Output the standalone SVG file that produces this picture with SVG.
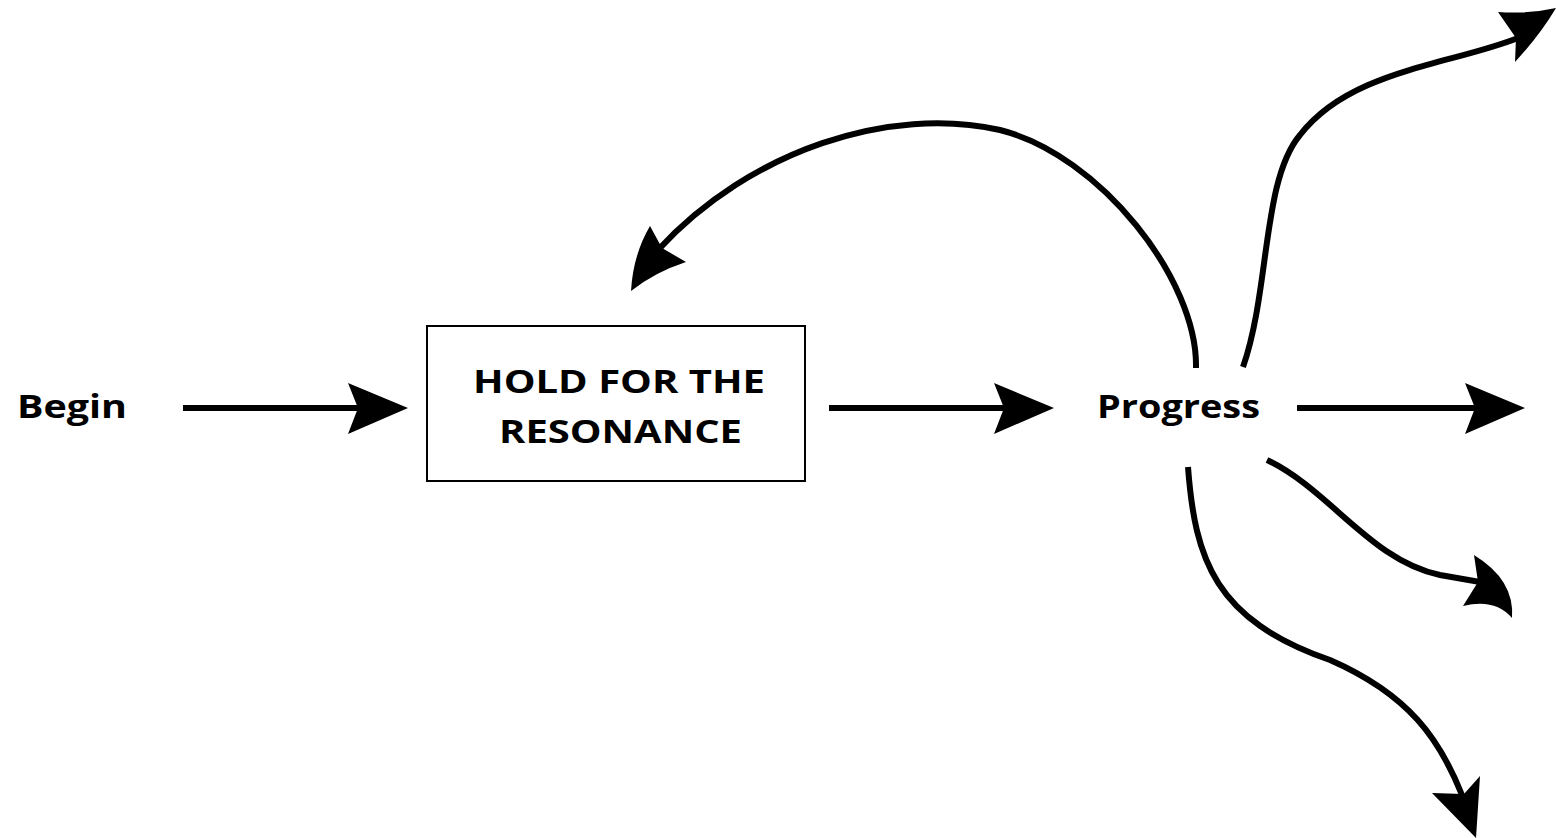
<svg xmlns="http://www.w3.org/2000/svg" width="1556" height="838" viewBox="0 0 1556 838">
<style>
text{font-family:"Open Sans","Lato","Liberation Sans",sans-serif;font-weight:700;fill:#000}
.lbl{font-size:32px}
.box{font-size:33px}
.ln{fill:none;stroke:#000;stroke-width:6}
.hd{fill:#000;stroke:none}
</style>
<rect width="1556" height="838" fill="#fff"/>
<g id="begin"><text class="lbl" x="17" y="418" textLength="110" lengthAdjust="spacingAndGlyphs">Begin</text></g>
<g id="hold">
<rect x="427" y="326" width="378" height="155" fill="#fff" stroke="#000" stroke-width="2"/>
<text class="box" x="473" y="393" textLength="292" lengthAdjust="spacingAndGlyphs">HOLD FOR THE</text>
<text class="box" x="499" y="443" textLength="243" lengthAdjust="spacingAndGlyphs">RESONANCE</text>
</g>
<g id="progress"><text class="lbl" x="1097" y="418" textLength="163" lengthAdjust="spacingAndGlyphs">Progress</text></g>
<g id="connectors">
<path class="ln" d="M183,408 H360"/>
<polygon class="hd" points="408,408 348,383 358,408 348,434"/>
<path class="ln" d="M829,408 H1005"/>
<polygon class="hd" points="1054,408 994,383 1004,408 994,434"/>
<path class="ln" d="M1297,408 H1475"/>
<polygon class="hd" points="1525,408 1465,383 1475,408 1465,434"/>
<path class="ln" d="M1196,368 C1198,280 1100,155 1000,130 C890,105 750,150 658,250"/>
<path class="hd" d="M631,291 Q633,255 650,226 L662,248 L686,262 Q655,272 631,291 Z"/>
<path class="ln" d="M1243,367 C1270,290 1262,180 1300,135 C1350,70 1450,65 1518,38"/>
<path class="hd" d="M1498,12 Q1530,14 1556,8 Q1540,35 1515,62 L1516,38 Z"/>
<path class="ln" d="M1267,460 C1330,490 1370,560 1440,575 L1480,582"/>
<path class="hd" d="M1474,555 Q1515,580 1512,618 Q1495,598 1463,606 L1478,582 Z"/>
<path class="ln" d="M1188,467 C1195,560 1215,620 1330,660 C1410,695 1440,740 1462,795"/>
<polygon class="hd" points="1432,793 1476,838 1480,776 1464,794"/>
</g>
</svg>
